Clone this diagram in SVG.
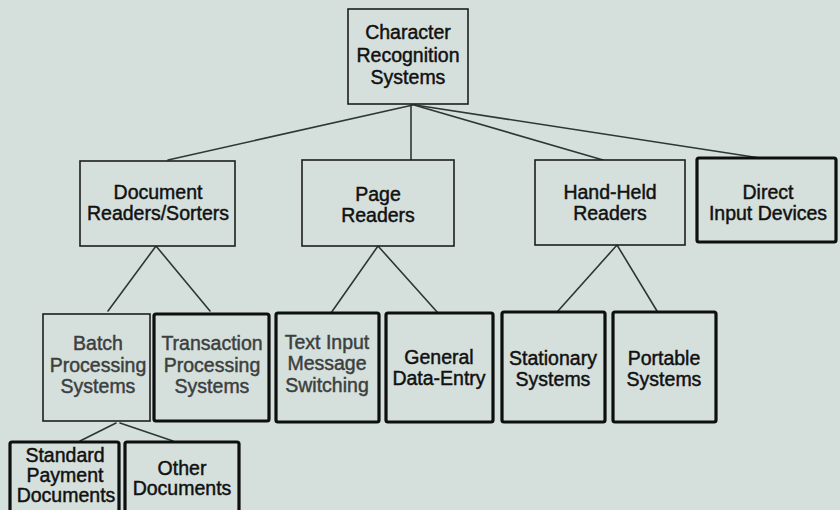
<svg xmlns="http://www.w3.org/2000/svg" width="840" height="510" viewBox="0 0 840 510">
  <style>
    .bg { fill: #d5dfdb; }
    .box { fill: #d5dfdb; stroke: #1c1f1e; stroke-width: 1.6; }
    .bold { fill: #d5dfdb; stroke: #0e100f; stroke-width: 3.2; }
    .link { stroke: #2c3833; stroke-width: 1.6; fill: none; stroke-linecap: round; }
    text { font-family: "Liberation Sans", Arial, Helvetica, sans-serif; font-size: 19.5px; fill: #111; stroke: #111; stroke-width: 0.45; text-anchor: middle; }
    .grey { fill: #3c3f3e; stroke: #3c3f3e; }
  </style>
  <rect class="bg" x="0" y="0" width="840" height="510"/>

  <!-- connectors -->
  <g id="connectors">
    <line class="link" x1="413" y1="105" x2="168" y2="160"/>
    <line class="link" x1="411" y1="105" x2="411" y2="160"/>
    <line class="link" x1="414" y1="105" x2="603" y2="160"/>
    <line class="link" x1="415" y1="105" x2="760" y2="158"/>
    <line class="link" x1="156" y1="246" x2="108" y2="311"/>
    <line class="link" x1="156" y1="246" x2="210" y2="311"/>
    <line class="link" x1="378" y1="246" x2="331" y2="313"/>
    <line class="link" x1="378" y1="246" x2="438" y2="313"/>
    <line class="link" x1="617" y1="245" x2="558" y2="311"/>
    <line class="link" x1="617" y1="245" x2="657" y2="311"/>
    <line class="link" x1="116" y1="423" x2="80" y2="441"/>
    <line class="link" x1="120" y1="423" x2="173" y2="441"/>
  </g>

  <!-- level 0 -->
  <g id="n-root">
    <rect class="box" x="348" y="9" width="120" height="95"/>
    <text x="408" y="39">Character</text>
    <text x="408" y="62">Recognition</text>
    <text x="408" y="84">Systems</text>
  </g>

  <!-- level 1 -->
  <g id="n-document-readers">
    <rect class="box" x="80" y="161" width="155" height="85"/>
    <text x="158" y="199">Document</text>
    <text x="158" y="220">Readers/Sorters</text>
  </g>
  <g id="n-page-readers">
    <rect class="box" x="302" y="160" width="152" height="86"/>
    <text x="378" y="201">Page</text>
    <text x="378" y="222">Readers</text>
  </g>
  <g id="n-hand-held">
    <rect class="box" x="535" y="160" width="150" height="85"/>
    <text x="610" y="199">Hand-Held</text>
    <text x="610" y="220">Readers</text>
  </g>
  <g id="n-direct-input">
    <rect class="bold" x="697" y="158" width="139" height="84" rx="2"/>
    <text x="768" y="199">Direct</text>
    <text x="768" y="220">Input Devices</text>
  </g>

  <!-- level 2 -->
  <g id="n-batch">
    <rect class="box" x="43" y="314" width="107" height="107"/>
    <text class="grey" x="98" y="350">Batch</text>
    <text class="grey" x="98" y="372">Processing</text>
    <text class="grey" x="98" y="393">Systems</text>
  </g>
  <g id="n-transaction">
    <rect class="bold" x="154" y="314" width="115" height="107" rx="2"/>
    <text class="grey" x="212" y="350">Transaction</text>
    <text class="grey" x="212" y="372">Processing</text>
    <text class="grey" x="212" y="393">Systems</text>
  </g>
  <g id="n-text-input">
    <rect class="bold" x="276" y="313" width="103" height="109" rx="2"/>
    <text class="grey" x="327" y="349">Text Input</text>
    <text class="grey" x="327" y="370">Message</text>
    <text class="grey" x="327" y="392">Switching</text>
  </g>
  <g id="n-general">
    <rect class="bold" x="386" y="313" width="107" height="109" rx="2"/>
    <text x="439" y="364">General</text>
    <text x="439" y="385">Data-Entry</text>
  </g>
  <g id="n-stationary">
    <rect class="bold" x="502" y="312" width="103" height="110" rx="2"/>
    <text x="553" y="365">Stationary</text>
    <text x="553" y="386">Systems</text>
  </g>
  <g id="n-portable">
    <rect class="bold" x="613" y="312" width="103" height="110" rx="2"/>
    <text x="664" y="365">Portable</text>
    <text x="664" y="386">Systems</text>
  </g>

  <!-- level 3 -->
  <g id="n-standard-payment">
    <rect class="bold" x="10" y="442" width="109" height="80" rx="2"/>
    <text x="65" y="462">Standard</text>
    <text x="65" y="482">Payment</text>
    <text x="66" y="502">Documents</text>
  </g>
  <g id="n-other-documents">
    <rect class="bold" x="125" y="442" width="114" height="80" rx="2"/>
    <text x="182" y="475">Other</text>
    <text x="182" y="495">Documents</text>
  </g>
</svg>
